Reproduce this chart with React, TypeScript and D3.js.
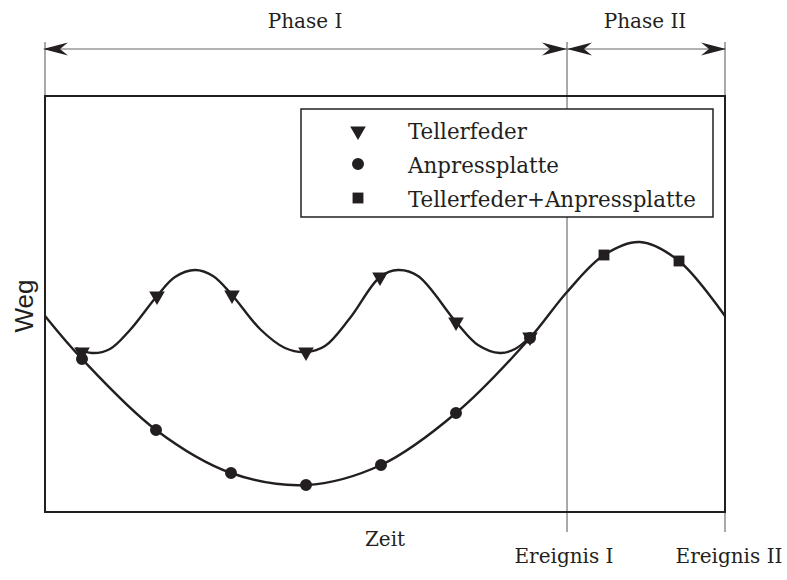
import React from "react";
import * as d3 from "d3";

// time axis: 0..680, path axis: 0..416 (arbitrary units)
const tellerfederMarkers: [number, number][] = [
  [37, 160], [112, 216], [187, 217], [261, 160], [335, 235], [411, 190], [485, 175],
];
const anpressMarkers: [number, number][] = [
  [37, 153], [111, 82], [186, 39], [261, 27], [336, 47], [411, 99], [485, 174],
];
const combinedMarkers: [number, number][] = [
  [559, 257], [634, 251],
];
const anpressCurve: [number, number][] = [
  [0, 196], [37, 153], [111, 82], [186, 39], [261, 27], [336, 47], [411, 99],
  [485, 174], [522, 220], [559, 257], [595, 270], [634, 251], [680, 196],
];
const tellerfederCurve: [number, number][] = [
  [31, 164], [47, 159], [65, 163], [85, 182], [112, 216], [130, 235], [150, 242],
  [168, 236], [187, 217], [215, 183], [240, 164], [261, 160], [280, 166], [305, 194],
  [335, 235], [353, 242], [373, 236], [411, 190], [433, 167], [455, 159], [470, 163], [485, 175],
];
const legendLabels = ["Tellerfeder", "Anpressplatte", "Tellerfeder+Anpressplatte"];
const phaseLabels = ["Phase I", "Phase II"];
const eventLabels = ["Ereignis I", "Ereignis II"];
const eventTimes = [522, 680];

const W = 787, H = 580;
const FONT = "DejaVu Serif";
const INK = "#231f20";

export default function App() {
  const x = d3.scaleLinear().domain([0, 680]).range([45, 725]);
  const y = d3.scaleLinear().domain([0, 416]).range([512, 96]);
  const line = d3.line<[number, number]>()
    .x(d => x(d[0])).y(d => y(d[1]))
    .curve(d3.curveCatmullRom.alpha(0.5));
  const tri = d3.symbol(d3.symbolTriangle, 105)()!;
  const circ = d3.symbol(d3.symbolCircle, 113)()!;
  const sq = d3.symbol(d3.symbolSquare, 118)()!;

  const arrowY = 49;
  const x0 = x(0), x1 = x(eventTimes[0]), x2 = x(eventTimes[1]);
  const head = (tx: number, dir: number) => {
    const b = -dir;
    return `M${tx},${arrowY} L${tx + b * 25},${arrowY - 6.5} L${tx + b * 17},${arrowY} L${tx + b * 25},${arrowY + 6.5} Z`;
  };

  return (
    <svg width={W} height={H} style={{ position: "absolute", left: 0, top: 0 }}>
      <rect width={W} height={H} fill="white" />
      {/* top dimension lines */}
      <line x1={x0} x2={x0} y1={42} y2={96} stroke="#555" strokeWidth={1} />
      <line x1={x1} x2={x1} y1={42} y2={532} stroke="#555" strokeWidth={1} />
      <line x1={x2} x2={x2} y1={42} y2={532} stroke="#555" strokeWidth={1} />
      <line x1={x0} x2={x1} y1={arrowY} y2={arrowY} stroke="#666" strokeWidth={1.2} />
      <line x1={x1} x2={x2} y1={arrowY} y2={arrowY} stroke="#666" strokeWidth={1.2} />
      <path d={head(x0 - 2, -1)} fill={INK} />
      <path d={head(x1, 1)} fill={INK} />
      <path d={head(x1, -1)} fill={INK} />
      <path d={head(x2 + 1, 1)} fill={INK} />
      <text x={305} y={28} textAnchor="middle" fontFamily={FONT} fontSize={20} fill={INK}>{phaseLabels[0]}</text>
      <text x={645} y={28} textAnchor="middle" fontFamily={FONT} fontSize={20} fill={INK}>{phaseLabels[1]}</text>

      {/* frame */}
      <rect x={45} y={96} width={680} height={416} fill="none" stroke={INK} strokeWidth={2} />

      {/* curves */}
      <path d={line(anpressCurve)!} fill="none" stroke={INK} strokeWidth={2.4} />
      <path d={line(tellerfederCurve)!} fill="none" stroke={INK} strokeWidth={2.4} />

      {/* markers */}
      {anpressMarkers.map((d, i) => (
        <path key={"c" + i} d={circ} transform={`translate(${x(d[0])},${y(d[1])})`} fill={INK} />
      ))}
      {tellerfederMarkers.map((d, i) => (
        <path key={"t" + i} d={tri} transform={`translate(${x(d[0])},${y(d[1])}) rotate(180)`} fill={INK} />
      ))}
      {combinedMarkers.map((d, i) => (
        <path key={"s" + i} d={sq} transform={`translate(${x(d[0])},${y(d[1])})`} fill={INK} />
      ))}

      {/* legend */}
      <rect x={301} y={109} width={412} height={108} fill="white" stroke={INK} strokeWidth={1.5} />
      <path d={tri} transform={`translate(358,131) rotate(180)`} fill={INK} />
      <path d={circ} transform={`translate(358,164)`} fill={INK} />
      <path d={sq} transform={`translate(358,198)`} fill={INK} />
      {legendLabels.map((l, i) => (
        <text key={l} x={408} y={139 + i * 34} fontFamily={FONT} fontSize={21.4} fill={INK}>{l}</text>
      ))}

      {/* axis labels */}
      <text x={385} y={546} textAnchor="middle" fontFamily={FONT} fontSize={20} fill={INK}>Zeit</text>
      <text transform="translate(33,306) rotate(-90)" textAnchor="middle" fontFamily="Liberation Sans" fontSize={26} fill={INK}>Weg</text>
      {eventLabels.map((l, i) => (
        <text key={l} x={i === 0 ? 564 : 729} y={563} textAnchor="middle" fontFamily={FONT} fontSize={20} fill={INK}>{l}</text>
      ))}
    </svg>
  );
}
